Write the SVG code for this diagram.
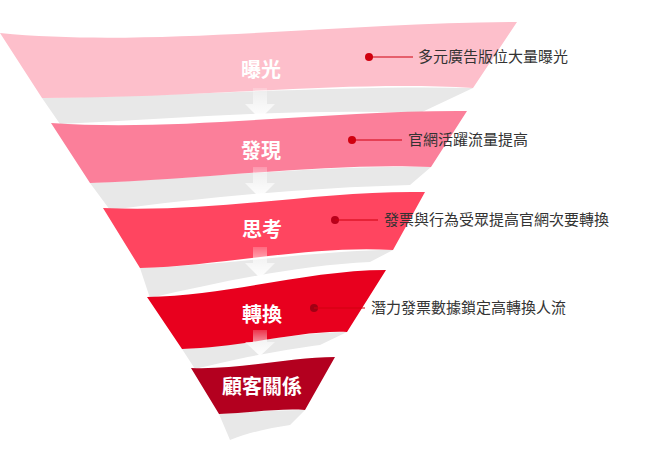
<svg xmlns="http://www.w3.org/2000/svg" width="657" height="450" viewBox="0 0 657 450">
<defs>
<linearGradient id="ar" x1="0" y1="0" x2="0" y2="1"><stop offset="0" stop-color="#fff" stop-opacity="0.2"/><stop offset="1" stop-color="#fff"/></linearGradient>
<style>
.sh{fill:#e8e8e8}
.t{font-family:"Noto Sans CJK TC",sans-serif;font-weight:bold;fill:#fff;font-size:20px;text-anchor:middle}
.l{font-family:"Noto Sans CJK TC",sans-serif;fill:#333;font-size:15px}
.ln{stroke:#d0000f;stroke-width:1.2}
.d{fill:#d0000f}
</style>
</defs>
<g id="shadows">
<path class="sh" d="M42,98 C200,95 350,85 473,88 L420,113 C300,108 180,118 60,124 Z"/>
<path class="sh" d="M90,183 C200,178 330,165 431,167 L410,185 C300,188 200,198 110,210 Z"/>
<path class="sh" d="M140,268 C230,265 320,250 393,250 L370,262 C300,265 220,282 150,298 Z"/>
<path class="sh" d="M182,349 C240,345 300,332 347,332 L320,345 C280,350 230,360 195,369 Z"/>
<path class="sh" d="M219,414 C250,412 280,410 305,410 L290,425 C270,428 250,432 230,440 Z"/>
</g>
<g id="n1"><path fill="#fdbfcb" d="M0,33 C150,48 350,22 517,22 L473,88 C350,80 200,98 42,98 Z"/><text class="t" x="261" y="77">曝光</text></g>
<g id="n2"><path fill="#fb7f9a" d="M51,123 C180,132 330,110 467,111 L431,167 C330,162 200,180 90,183 Z"/><text class="t" x="261" y="158">發現</text></g>
<g id="n3"><path fill="#ff4560" d="M103,208 C220,213 320,190 425,192 L393,250 C310,245 220,266 140,268 Z"/><text class="t" x="262" y="237">思考</text></g>
<g id="n4"><path fill="#e8001e" d="M147,297 C230,295 310,270 386,270 L347,332 C300,330 240,348 182,349 Z"/><text class="t" x="262" y="322">轉換</text></g>
<g id="n5"><path fill="#b3001f" d="M191,368 C240,370 290,357 335,357 L305,410 C280,408 250,413 219,414 Z"/><text class="t" x="262" y="394">顧客關係</text></g>
<g id="connectors">
<path fill="url(#ar)" d="M253,88 h14 v16 h8 l-15,15 l-15,-15 h8 Z"/>
<path fill="url(#ar)" d="M253,167 h14 v16 h8 l-15,15 l-15,-15 h8 Z"/>
<path fill="url(#ar)" d="M253,247 h14 v16 h8 l-15,15 l-15,-15 h8 Z"/>
<path fill="url(#ar)" d="M253,330 h14 v12 h8 l-15,14 l-15,-14 h8 Z"/>
<circle class="d" cx="369" cy="57" r="4"/><line class="ln" x1="369" y1="57" x2="413" y2="57"/>
<circle class="d" cx="352" cy="140" r="4"/><line class="ln" x1="352" y1="140" x2="402" y2="140"/>
<circle fill="#b8001a" cx="335" cy="220" r="4"/><line class="ln" stroke="#a00" x1="335" y1="220" x2="378" y2="220"/>
<circle fill="#a00014" cx="314" cy="308" r="4"/><line class="ln" x1="314" y1="308" x2="365" y2="308"/>
</g>
<g id="labels">
<text class="l" x="418" y="62">多元廣告版位大量曝光</text>
<text class="l" x="408" y="145">官網活躍流量提高</text>
<text class="l" x="384" y="225">發票與行為受眾提高官網次要轉換</text>
<text class="l" x="371" y="313">潛力發票數據鎖定高轉換人流</text>
</g>
</svg>
